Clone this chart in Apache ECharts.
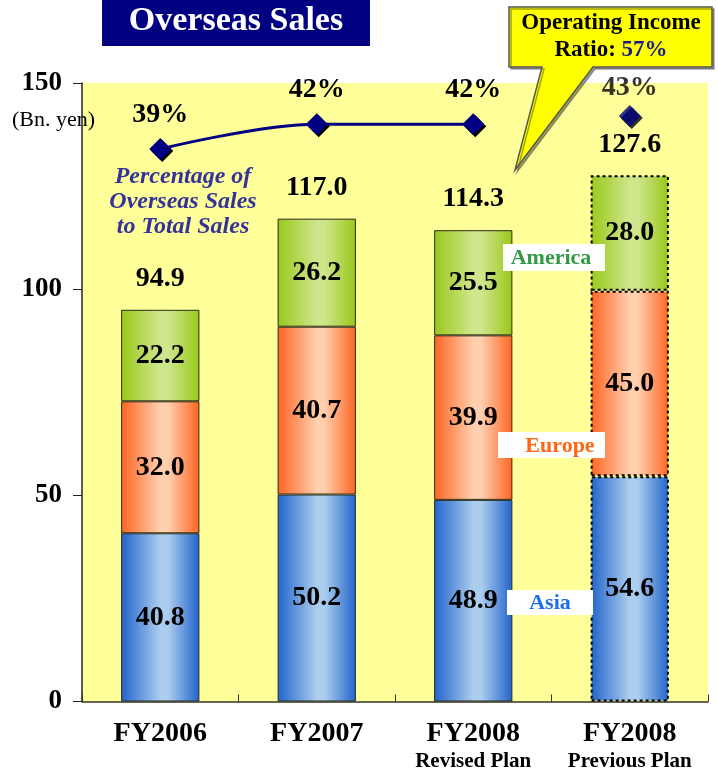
<!DOCTYPE html>
<html>
<head>
<meta charset="utf-8">
<script src="https://cdn.jsdelivr.net/npm/echarts@6/dist/echarts.min.js"></script>
<style>
  html, body { margin: 0; padding: 0; background: #ffffff; }
  #chart { width: 718px; height: 772px; }
</style>
</head>
<body>
<div id="chart"></div>
<script>
// Overseas sales by region (Bn. yen) and overseas share of total sales (%)
const categories = ['FY2006', 'FY2007', 'FY2008', 'FY2008'];
const subLabels = ['', '', 'Revised Plan', 'Previous Plan'];
const asia = [40.8, 50.2, 48.9, 54.6];
const europe = [32.0, 40.7, 39.9, 45.0];
const america = [22.2, 26.2, 25.5, 28.0];
const totals = [94.9, 117.0, 114.3, 127.6];
const overseasShare = [39, 42, 42, 43];
const planIndex = 3; // the previous-plan column is drawn with dotted outlines

const SERIF = "'Liberation Serif', 'Times New Roman', serif";

function barGradient(edge, mid) {
  return new echarts.graphic.LinearGradient(0, 0, 1, 0, [
    { offset: 0, color: edge },
    { offset: 0.5, color: mid },
    { offset: 0.6, color: mid },
    { offset: 1, color: edge }
  ]);
}

function segmentData(values) {
  return values.map((v, i) => i === planIndex
    ? { value: v, itemStyle: { borderType: [3, 3], borderColor: '#000', borderWidth: 2 } }
    : v);
}

function segmentSeries(name, values, edge, mid) {
  return {
    name: name,
    type: 'bar',
    stack: 'sales',
    barWidth: '50%',
    data: segmentData(values),
    itemStyle: { color: barGradient(edge, mid), borderColor: '#2a2a1a', borderWidth: 1 },
    label: {
      show: true, position: 'inside', color: '#000',
      fontFamily: SERIF, fontWeight: 'bold', fontSize: 28,
      formatter: p => p.value.toFixed(1)
    },
    emphasis: { disabled: true }
  };
}

const chart = echarts.init(document.getElementById('chart'), null, { renderer: 'canvas' });

chart.setOption({
  animation: false,
  backgroundColor: '#ffffff',
  grid: {
    left: 82, right: 10, top: 83, bottom: 68,
    show: true, backgroundColor: '#FFFF99', borderWidth: 0
  },
  xAxis: {
    type: 'category',
    data: categories.map((c, i) => subLabels[i] ? c + '\n' + subLabels[i] : c),
    axisLine: { lineStyle: { color: '#333322', width: 1.5 } },
    axisTick: { show: true, inside: true, length: 7, lineStyle: { color: '#333322' } },
    axisLabel: {
      margin: 17,
      formatter: function (v) {
        const parts = v.split('\n');
        return parts.length > 1 ? '{a|' + parts[0] + '}\n{b|' + parts[1] + '}' : '{a|' + parts[0] + '}';
      },
      rich: {
        a: { fontFamily: SERIF, fontWeight: 'bold', fontSize: 28, color: '#000', lineHeight: 30 },
        b: { fontFamily: SERIF, fontWeight: 'bold', fontSize: 21, color: '#000', lineHeight: 26 }
      }
    }
  },
  yAxis: [
    {
      type: 'value', min: 0, max: 150, interval: 50,
      axisLine: { show: true, lineStyle: { color: '#222', width: 1.5 } },
      axisTick: { show: true, length: 9, lineStyle: { color: '#222' } },
      splitLine: { show: false },
      axisLabel: { margin: 20, fontFamily: SERIF, fontWeight: 'bold', fontSize: 27, color: '#000' }
    },
    { type: 'value', min: -28, max: 47, show: false }
  ],
  series: [
    segmentSeries('Asia', asia, '#2264CC', '#ABCDEE'),
    segmentSeries('Europe', europe, '#FF6422', '#FFCFAE'),
    segmentSeries('America', america, '#99C81A', '#CFE68C'),
    {
      name: 'Total',
      type: 'bar',
      barWidth: '50%',
      barGap: '-100%',
      z: 1,
      silent: true,
      data: totals,
      itemStyle: { color: 'rgba(0,0,0,0)' },
      label: {
        show: true, position: 'top', distance: 17, color: '#000',
        fontFamily: SERIF, fontWeight: 'bold', fontSize: 28,
        formatter: p => p.value.toFixed(1)
      }
    },
    {
      name: 'Share',
      type: 'line',
      yAxisIndex: 1,
      smooth: 0.35,
      z: 5,
      data: overseasShare.map((v, i) => i < planIndex ? v : '-'),
      symbol: 'diamond',
      symbolSize: 22,
      lineStyle: { color: '#000080', width: 3 },
      itemStyle: { color: '#000080', shadowColor: '#000', shadowOffsetX: 2, shadowOffsetY: 2 },
      label: {
        show: true, position: 'top', distance: 9, color: '#000',
        fontFamily: SERIF, fontWeight: 'bold', fontSize: 28, formatter: '{c}%'
      }
    },
    {
      name: 'Share (plan)',
      type: 'scatter',
      yAxisIndex: 1,
      z: 5,
      data: overseasShare.map((v, i) => i === planIndex ? v : '-'),
      symbol: 'diamond',
      symbolSize: 22,
      itemStyle: { color: '#000080', shadowColor: '#000', shadowOffsetX: 2, shadowOffsetY: 2 },
      label: {
        show: true, position: 'top', distance: 3, color: '#000',
        fontFamily: SERIF, fontWeight: 'bold', fontSize: 28, formatter: '{c}%'
      }
    }
  ],
  graphic: [
    // title banner
    { type: 'rect', shape: { x: 102, y: 0, width: 268, height: 46 }, style: { fill: '#000080' } },
    {
      type: 'text', x: 236, y: 21,
      style: {
        text: 'Overseas Sales', fill: '#fff', font: "bold 34px " + SERIF,
        align: 'center', verticalAlign: 'middle',
        textShadowColor: '#222', textShadowOffsetX: 1.5, textShadowOffsetY: 1.5
      }
    },
    // unit label
    {
      type: 'text', x: 12, y: 120,
      style: { text: '(Bn. yen)', fill: '#000', font: "22px " + SERIF, verticalAlign: 'middle' }
    },
    // callout balloon
    {
      type: 'polygon', z: 10,
      shape: { points: [[509, 7], [712, 7], [712, 67], [593, 67], [515, 170], [542, 67], [509, 67]] },
      style: { fill: '#FFFF00', stroke: '#555', lineWidth: 1.5, shadowColor: 'rgba(0,0,0,0.35)', shadowOffsetX: 2, shadowOffsetY: 2 }
    },
    {
      type: 'text', x: 611, y: 37, z: 11,
      style: {
        text: 'Operating Income\nRatio: {n|57%}', align: 'center', verticalAlign: 'middle',
        fill: '#000', font: "bold 23px " + SERIF, lineHeight: 27,
        rich: { n: { fill: '#1a1a8c', fontFamily: SERIF, fontWeight: 'bold', fontSize: 23 } }
      }
    },
    // line series caption
    {
      type: 'text', x: 183, y: 202, z: 10,
      style: {
        text: 'Percentage of\nOverseas Sales\nto Total Sales', align: 'center', verticalAlign: 'middle',
        fill: '#333399', font: "italic bold 24px " + SERIF, lineHeight: 25
      }
    },
    // region tags
    { type: 'rect', z: 10, shape: { x: 503, y: 244, width: 102, height: 27 }, style: { fill: '#fff' } },
    {
      type: 'text', x: 551, y: 258, z: 11,
      style: { text: 'America', fill: '#339944', font: "bold 22px " + SERIF, align: 'center', verticalAlign: 'middle' }
    },
    { type: 'rect', z: 10, shape: { x: 498, y: 432, width: 107, height: 26 }, style: { fill: '#fff' } },
    {
      type: 'text', x: 560, y: 446, z: 11,
      style: { text: 'Europe', fill: '#FF6611', font: "bold 22px " + SERIF, align: 'center', verticalAlign: 'middle' }
    },
    { type: 'rect', z: 10, shape: { x: 507, y: 590, width: 86, height: 25 }, style: { fill: '#fff' } },
    {
      type: 'text', x: 550, y: 603, z: 11,
      style: { text: 'Asia', fill: '#1E6FE8', font: "bold 22px " + SERIF, align: 'center', verticalAlign: 'middle' }
    }
  ]
});
</script>
</body>
</html>
